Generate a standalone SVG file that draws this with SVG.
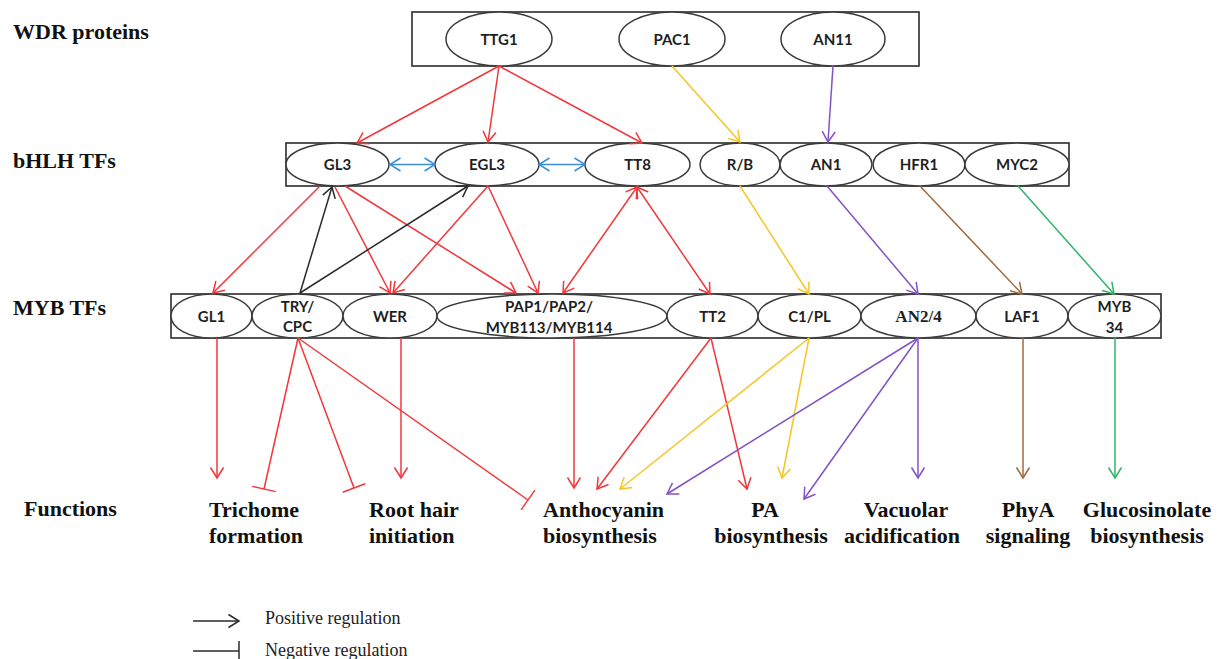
<svg xmlns="http://www.w3.org/2000/svg" width="1217" height="659" viewBox="0 0 1217 659">
<style>
.box{fill:#fff;stroke:#2b2b2b;stroke-width:1.6}
.el{fill:#fff;stroke:#3a3a3a;stroke-width:1.5}
.nt{font-family:Lato,"Liberation Sans",sans-serif;font-weight:700;font-size:15px;fill:#1f1f1f;text-anchor:middle}
.ser{font-family:"Liberation Serif","Times New Roman",serif;font-weight:700;font-size:17px;fill:#1f1f1f;text-anchor:middle}
.lab{font-family:"Liberation Serif","Times New Roman",serif;font-weight:700;font-size:22px;fill:#111}
.mid{text-anchor:middle}
.lg{font-family:"Liberation Serif","Times New Roman",serif;font-size:18px;fill:#222}
.c line{fill:none;stroke-width:1.5}
.r{stroke:#f0373c;marker-end:url(#ar)}
.rd{stroke:#f0373c;marker-start:url(#ar);marker-end:url(#ar)}
.ri{stroke:#f0373c;marker-end:url(#tr)}
.k{stroke:#2a2a2a;marker-end:url(#ak)}
.b{stroke:#3a8fd6;marker-start:url(#ab);marker-end:url(#ab)}
.y{stroke:#f5c623;marker-end:url(#ay)}
.p{stroke:#8352c4;marker-end:url(#ap)}
.br{stroke:#a0693c;marker-end:url(#abr)}
.g{stroke:#2fb46c;marker-end:url(#ag)}
</style>
<defs>
<marker id="ar" viewBox="0 0 12 14" refX="11" refY="7" markerWidth="12" markerHeight="14" markerUnits="userSpaceOnUse" orient="auto-start-reverse" overflow="visible"><path d="M0.5,0.5 L11,7 L0.5,13.5" fill="none" stroke="#f0373c" stroke-width="1.5"/></marker>
<marker id="ak" viewBox="0 0 12 14" refX="11" refY="7" markerWidth="12" markerHeight="14" markerUnits="userSpaceOnUse" orient="auto-start-reverse" overflow="visible"><path d="M0.5,0.5 L11,7 L0.5,13.5" fill="none" stroke="#2a2a2a" stroke-width="1.5"/></marker>
<marker id="ab" viewBox="0 0 12 14" refX="11" refY="7" markerWidth="12" markerHeight="14" markerUnits="userSpaceOnUse" orient="auto-start-reverse" overflow="visible"><path d="M0.5,0.5 L11,7 L0.5,13.5" fill="none" stroke="#3a8fd6" stroke-width="1.5"/></marker>
<marker id="ay" viewBox="0 0 12 14" refX="11" refY="7" markerWidth="12" markerHeight="14" markerUnits="userSpaceOnUse" orient="auto-start-reverse" overflow="visible"><path d="M0.5,0.5 L11,7 L0.5,13.5" fill="none" stroke="#f5c623" stroke-width="1.5"/></marker>
<marker id="ap" viewBox="0 0 12 14" refX="11" refY="7" markerWidth="12" markerHeight="14" markerUnits="userSpaceOnUse" orient="auto-start-reverse" overflow="visible"><path d="M0.5,0.5 L11,7 L0.5,13.5" fill="none" stroke="#8352c4" stroke-width="1.5"/></marker>
<marker id="abr" viewBox="0 0 12 14" refX="11" refY="7" markerWidth="12" markerHeight="14" markerUnits="userSpaceOnUse" orient="auto-start-reverse" overflow="visible"><path d="M0.5,0.5 L11,7 L0.5,13.5" fill="none" stroke="#a0693c" stroke-width="1.5"/></marker>
<marker id="ag" viewBox="0 0 12 14" refX="11" refY="7" markerWidth="12" markerHeight="14" markerUnits="userSpaceOnUse" orient="auto-start-reverse" overflow="visible"><path d="M0.5,0.5 L11,7 L0.5,13.5" fill="none" stroke="#2fb46c" stroke-width="1.5"/></marker>
<marker id="tr" viewBox="-2 -13 4 26" refX="0" refY="0" markerWidth="4" markerHeight="26" markerUnits="userSpaceOnUse" orient="auto" overflow="visible"><path d="M0,-12 L0,12" fill="none" stroke="#f0373c" stroke-width="1.5"/></marker>
<marker id="tk" viewBox="-2 -11 4 22" refX="0" refY="0" markerWidth="4" markerHeight="22" markerUnits="userSpaceOnUse" orient="auto" overflow="visible"><path d="M0,-10 L0,10" fill="none" stroke="#2a2a2a" stroke-width="1.5"/></marker>
</defs>
<rect width="1217" height="659" fill="#fff"/>

<!-- row labels -->
<text class="lab" x="13" y="39">WDR proteins</text>
<text class="lab" x="13" y="168">bHLH TFs</text>
<text class="lab" x="13" y="315">MYB TFs</text>
<text class="lab" x="24" y="516">Functions</text>

<!-- row boxes -->
<g id="wdr-row"><rect class="box" x="412" y="12" width="507" height="54"/></g>
<g id="bhlh-row"><rect class="box" x="286" y="143" width="783" height="43"/></g>
<g id="myb-row"><rect class="box" x="171" y="294" width="990" height="44"/></g>

<!-- WDR nodes -->
<g id="TTG1"><ellipse class="el" cx="499" cy="39" rx="53" ry="27"/><text class="nt" x="499" y="45">TTG1</text></g>
<g id="PAC1"><ellipse class="el" cx="672" cy="39" rx="53" ry="27"/><text class="nt" x="672" y="45">PAC1</text></g>
<g id="AN11"><ellipse class="el" cx="833" cy="39" rx="52" ry="27"/><text class="nt" x="833" y="45">AN11</text></g>

<!-- bHLH nodes -->
<g id="GL3"><ellipse class="el" cx="337.5" cy="164.5" rx="51.5" ry="21.5"/><text class="nt" x="337.5" y="170">GL3</text></g>
<g id="EGL3"><ellipse class="el" cx="487" cy="164.5" rx="52" ry="21.5"/><text class="nt" x="487" y="170">EGL3</text></g>
<g id="TT8"><ellipse class="el" cx="637.5" cy="164.5" rx="52.5" ry="21.5"/><text class="nt" x="637.5" y="170">TT8</text></g>
<g id="RB"><ellipse class="el" cx="740" cy="164.5" rx="40" ry="21.5"/><text class="nt" x="740" y="170">R/B</text></g>
<g id="AN1"><ellipse class="el" cx="826" cy="164.5" rx="46" ry="21.5"/><text class="nt" x="826" y="170">AN1</text></g>
<g id="HFR1"><ellipse class="el" cx="919" cy="164.5" rx="46" ry="21.5"/><text class="nt" x="919" y="170">HFR1</text></g>
<g id="MYC2"><ellipse class="el" cx="1017" cy="164.5" rx="52" ry="21.5"/><text class="nt" x="1017" y="170">MYC2</text></g>

<!-- MYB nodes -->
<g id="GL1"><ellipse class="el" cx="211.5" cy="316" rx="40.5" ry="22"/><text class="nt" x="211.5" y="321.5">GL1</text></g>
<g id="TRYCPC"><ellipse class="el" cx="297.5" cy="316" rx="45.5" ry="22"/><text class="nt" x="297.5" y="312">TRY/</text><text class="nt" x="297.5" y="332">CPC</text></g>
<g id="WER"><ellipse class="el" cx="390" cy="316" rx="47" ry="22"/><text class="nt" x="390" y="321.5">WER</text></g>
<g id="PAP"><ellipse class="el" cx="552" cy="316" rx="115" ry="22"/><text class="nt" x="549" y="312">PAP1/PAP2/</text><text class="nt" x="549" y="333">MYB113/MYB114</text></g>
<g id="TT2"><ellipse class="el" cx="712.5" cy="316" rx="45.5" ry="22"/><text class="nt" x="712.5" y="321.5">TT2</text></g>
<g id="C1PL"><ellipse class="el" cx="809.5" cy="316" rx="51.5" ry="22"/><text class="nt" x="809.5" y="321.5">C1/PL</text></g>
<g id="AN24"><ellipse class="el" cx="918.5" cy="316" rx="57.5" ry="22"/><text class="ser" x="918.5" y="322">AN2/4</text></g>
<g id="LAF1"><ellipse class="el" cx="1022" cy="316" rx="46" ry="22"/><text class="nt" x="1022" y="321.5">LAF1</text></g>
<g id="MYB34"><ellipse class="el" cx="1114.5" cy="316" rx="46.5" ry="22"/><text class="nt" x="1114.5" y="312">MYB</text><text class="nt" x="1114.5" y="333">34</text></g>

<!-- function nodes -->
<g id="f-trichome"><text class="lab" x="209" y="517">Trichome</text><text class="lab" x="209" y="543">formation</text></g>
<g id="f-roothair"><text class="lab" x="369" y="517">Root hair</text><text class="lab" x="369" y="543">initiation</text></g>
<g id="f-antho"><text class="lab" x="543" y="517">Anthocyanin</text><text class="lab" x="543" y="543">biosynthesis</text></g>
<g id="f-pa"><text class="lab mid" x="765" y="517">PA</text><text class="lab mid" x="771" y="543">biosynthesis</text></g>
<g id="f-vac"><text class="lab mid" x="906" y="517">Vacuolar</text><text class="lab mid" x="902" y="543">acidification</text></g>
<g id="f-phya"><text class="lab mid" x="1028" y="517">PhyA</text><text class="lab mid" x="1028" y="543">signaling</text></g>
<g id="f-gluc"><text class="lab mid" x="1147" y="517">Glucosinolate</text><text class="lab mid" x="1147" y="543">biosynthesis</text></g>

<!-- connectors -->
<g id="connectors" class="c">
<line class="r" x1="499" y1="66" x2="357" y2="143"/>
<line class="r" x1="499" y1="66" x2="488" y2="142"/>
<line class="r" x1="499" y1="66" x2="642" y2="143"/>
<line class="y" x1="672" y1="66" x2="740" y2="142"/>
<line class="p" x1="833" y1="66" x2="828" y2="142"/>

<line class="b" x1="390" y1="164.5" x2="435" y2="164.5"/>
<line class="b" x1="539" y1="164.5" x2="585" y2="164.5"/>

<line class="r" x1="320" y1="186" x2="213" y2="293"/>
<line class="r" x1="335" y1="187" x2="390" y2="293"/>
<line class="r" x1="345" y1="186" x2="516" y2="293"/>
<line class="r" x1="488" y1="186" x2="393" y2="293"/>
<line class="r" x1="488" y1="186" x2="538" y2="293"/>
<line class="rd" x1="637" y1="187" x2="563" y2="293"/>
<line class="rd" x1="637" y1="187" x2="710" y2="294"/>
<line class="k" x1="300" y1="293" x2="332" y2="187"/>
<line class="k" x1="300" y1="293" x2="468" y2="186"/>
<line class="y" x1="740" y1="186" x2="809" y2="294"/>
<line class="p" x1="827" y1="186" x2="918" y2="294"/>
<line class="br" x1="920" y1="186" x2="1022" y2="294"/>
<line class="g" x1="1018" y1="186" x2="1114" y2="294"/>

<line class="r" x1="217" y1="338" x2="217" y2="478"/>
<line class="ri" x1="298" y1="338" x2="264" y2="489"/>
<line class="ri" x1="298" y1="338" x2="354" y2="488"/>
<line class="ri" x1="298" y1="338" x2="528" y2="500"/>
<line class="r" x1="401" y1="338" x2="401" y2="478"/>
<line class="r" x1="574" y1="338" x2="574" y2="488"/>
<line class="r" x1="711" y1="338" x2="597" y2="489"/>
<line class="r" x1="711" y1="338" x2="747" y2="489"/>
<line class="y" x1="809" y1="338" x2="620" y2="489"/>
<line class="y" x1="809" y1="338" x2="782" y2="478"/>
<line class="p" x1="918" y1="338" x2="667" y2="494"/>
<line class="p" x1="918" y1="338" x2="804" y2="499"/>
<line class="p" x1="918" y1="338" x2="918" y2="478"/>
<line class="br" x1="1023" y1="338" x2="1023" y2="478"/>
<line class="g" x1="1115" y1="338" x2="1115" y2="478"/>
</g>

<!-- legend -->
<g id="legend">
<line x1="193" y1="621" x2="239" y2="621" stroke="#2a2a2a" stroke-width="1.5" marker-end="url(#ak)"/>
<text class="lg" x="265" y="624">Positive regulation</text>
<line x1="193" y1="651" x2="239" y2="651" stroke="#2a2a2a" stroke-width="1.5" marker-end="url(#tk)"/>
<text class="lg" x="265" y="656">Negative regulation</text>
</g>
</svg>
